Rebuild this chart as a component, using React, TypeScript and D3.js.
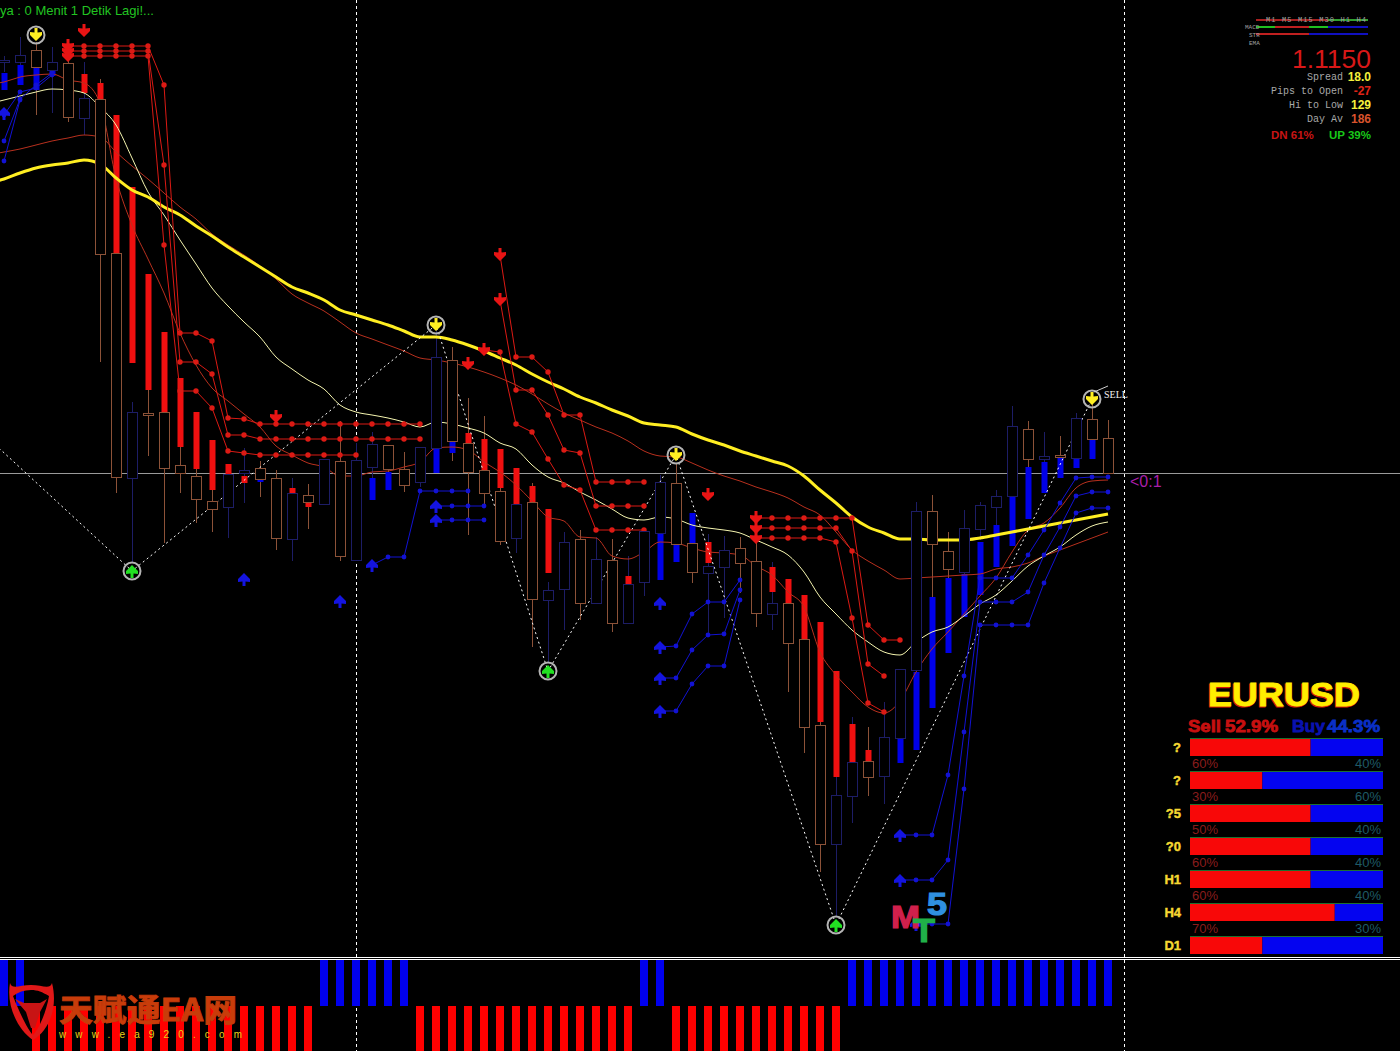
import { useEffect, useRef } from 'react';
import * as d3 from 'd3';

// all prices are half-pips relative to the 1.1150 bid line
const opens = [411,411,423,403,410,355,374,220,-5,60,61,8,-3,-28,-34,0,5,-5,-66,-22,-31,12,-87,6,28,4,-9,25,113,30,3,-18,-65,-29,-127,-116,-66,-130,-87,-150,-109,-60,-10,-70,-100,-94,-75,-88,-141,-130,-166,-252,-371,-323,-288,-303,-265,-197,-38,-78,-99,-56,-34,-23,44,14,18,15,54,35];
const closes = [413,418,406,411,356,375,219,-4,61,58,5,0,-26,-36,-1,3,-6,-65,-20,-29,14,-83,13,29,4,-12,26,116,32,1,-20,-68,-31,-126,-117,-69,-130,-86,-150,-111,-58,-9,-71,-99,-93,-77,-90,-140,-130,-170,-254,-371,-322,-289,-304,-264,-196,-38,-71,-96,-55,-32,-23,47,14,17,16,55,34,0];
const highs = [417,436,431,426,433,411,394,220,71,83,138,26,4,-17,-1,25,12,3,-5,-11,14,52,30,41,28,21,26,143,126,75,57,24,5,-10,-109,-59,-57,-64,-66,-83,-58,-2,10,-70,-61,-63,-64,-40,-89,-106,-122,-149,-304,-244,-254,-229,-196,-29,-22,-59,-37,-29,-17,67,52,41,37,60,73,53];
const lows = [401,388,358,360,351,338,111,-20,-89,17,-70,-20,-50,-59,-65,-30,-24,-77,-88,-56,-31,-88,-87,-27,1,-19,-14,0,12,-62,-34,-72,-80,-174,-189,-157,-147,-130,-159,-151,-123,-107,-89,-110,-162,-145,-120,-154,-157,-219,-280,-399,-444,-350,-323,-331,-290,-277,-124,-120,-101,-67,-52,-24,6,11,16,15,34,0];

const haOpens: (number | null)[] = [383,388,383,397,null,399,390,358,286,199,141,95,61,33,9,-3,-9,null,-15,-29,null,null,null,-27,-17,null,null,0,20,40,34,24,5,-13,-36,null,null,null,null,-103,null,-107,-89,-70,-69,null,null,null,-94,-106,-122,-149,-198,-251,-277,null,-290,-277,-235,-180,-144,-122,-94,-73,-46,-20,-5,5,14,null];
const haCloses: (number | null)[] = [400,408,406,403,null,380,374,220,110,83,61,26,4,-17,-1,-10,-6,null,-20,-34,null,null,null,-5,1,null,null,25,32,30,3,-15,-31,-29,-100,null,null,null,null,-111,null,-60,-71,-40,-90,null,null,null,-119,-130,-166,-249,-304,-289,-288,null,-265,-199,-124,-105,-101,-69,-52,-24,6,11,16,15,34,null];

// moving averages, first value belongs to bar -1 (just off the left edge)
const maSlow = [290,294,300,305,308,310,313,309,295,283,276,266,258,247,237,226,216,206,196,186,180,173,163,158,153,148,142,136,136,133,128,122,115,108,99,91,84,76,70,63,57,50,48,46,39,33,28,22,17,12,7,-3,-17,-30,-44,-54,-60,-66,-66,-67,-67,-67,-65,-62,-59,-56,-53,-50,-47,-44,-41];
const maMid = [318,321,324,328,332,335,338,336,321,307,294,280,266,254,239,228,218,207,194,179,170,162,151,140,134,128,122,115,113,110,106,101,95,88,79,69,60,53,46,40,32,22,17,16,10,3,-3,-8,-14,-19,-25,-34,-42,-59,-77,-88,-97,-106,-105,-104,-103,-102,-101,-96,-94,-90,-83,-77,-71,-65,-59];
const maFast = [369,373,377,381,384,383,380,366,348,315,281,258,233,209,185,167,151,136,116,104,93,84,68,61,58,55,51,46,51,49,45,40,30,24,8,-4,-10,-19,-27,-36,-45,-47,-44,-46,-52,-55,-57,-60,-67,-74,-82,-99,-124,-141,-157,-169,-179,-182,-169,-159,-154,-143,-131,-122,-108,-93,-83,-74,-62,-53,-49];
const maTrigger = [389,391,396,398,399,393,390,370,295,248,214,180,140,108,85,72,59,46,27,18,10,6,-3,-3,1,2,6,11,25,26,23,11,1,-12,-28,-44,-48,-64,-65,-83,-86,-79,-69,-70,-75,-79,-80,-82,-93,-102,-119,-134,-179,-202,-219,-234,-240,-228,-199,-176,-159,-141,-123,-105,-79,-57,-50,-35,-15,-8,-7];

// stop lines: first number is the starting bar, the rest are levels
const redStairs = [
  [4,427,427,427,427,427,427,388,140,140,132,55,54,49,49,49,49,49,49,49,49,49,49,49],
  [4,422,422,422,422,422,422,308,111,111,99,38,38,34,34,34,34,34,34,34,34,34,34,34],
  [4,417,417,417,417,417,417,228,82,82,65,22,20,18,18,18,18,18,18,18],
  [31,218,116,116,101,58,58,-9,-9,-9,-9],
  [31,173,83,83,58,23,20,-33,-33,-33,-33],
  [30,123,121,49,41,14,-12,-17,-57,-57,-57,-57],
  [47,-45,-45,-45,-45,-45,-45,-45,-152,-167,-167],
  [47,-55,-55,-55,-55,-55,-55,-78,-191,-203],
  [47,-65,-65,-65,-65,-65,-69,-145,-230,-239],
];
const blueStairs = [
  [0,358,381,385,398],
  [0,332,374,388,400],
  [0,312,373],
  [23,-92,-84,-84,-18,-18,-18,-18],
  [27,-33,-33,-33,-33],
  [27,-47,-47,-47,-47],
  [41,-174,-173,-141,-129,-129,-107],
  [41,-205,-205,-177,-162,-161,-117],
  [41,-238,-238,-211,-193,-193,-127],
  [56,-362,-362,-362,-302,-203,-105,-105,-105,-82,-57,-30,-5,-4,-4],
  [56,-407,-407,-407,-387,-259,-129,-129,-129,-119,-82,-54,-23,-19,-19],
  [57,-451,-451,-451,-316,-152,-152,-152,-152,-110,-75,-40,-35,-35],
];

const zigzagBars = [-1,8,27,34,42,52,68];
const zigzagLevels = [35,-98,148,-198,18,-452,74];
const topSignalBars = [2,27,42,68];
const topSignalLevels = [438,148,18,74];
const bottomSignalBars = [8,34,52];
const bottomSignalLevels = [-98,-198,-452];

const sellArrowBars = [5,4,4,4,17,29,30,31,31,44,47,47,47];
const sellArrowLevels = [442,427,422,417,56,109,123,218,173,-22,-45,-55,-65];
const buyArrowBars = [0,15,21,23,27,27,41,41,41,41,56,56,57];
const buyArrowLevels = [360,-106,-128,-92,-33,-47,-130,-174,-205,-238,-362,-407,-451];

const trendSignal = [1,1,-1,-1,-1,-1,-1,-1,-1,-1,-1,-1,-1,-1,-1,-1,-1,-1,-1,-1,1,1,1,1,1,1,-1,-1,-1,-1,-1,-1,-1,-1,-1,-1,-1,-1,-1,-1,1,1,-1,-1,-1,-1,-1,-1,-1,-1,-1,-1,-1,1,1,1,1,1,1,1,1,1,1,1,1,1,1,1,1,1];

const meterLabels = ['?','?','?5','?0','H1','H4','D1'];
const meterEighths = [5,3,5,5,5,6,3];
const meterSell = ['60%','30%','50%','60%','60%','70%'];
const meterBuy = ['40%','60%','40%','40%','40%','30%'];

const infoLabels = ['Spread','Pips to Open','Hi to Low','Day Av'];
const infoValues = ['18.0','-27','129','186'];
const infoColors = ['#f4f03c','#e02418','#f4f03c','#d8532c'];

const sans = '"Liberation Sans", Arial, sans-serif';
const NAVY = '#1d1d66';
const BROWN = '#8c5238';

const App = () => {
  const ref = useRef<SVGSVGElement | null>(null);

  useEffect(() => {
    if (!ref.current) return;
    const svg = d3.select(ref.current);
    svg.selectAll('*').remove();
    const width = 1400;
    const height = 1051;

    const x = d3.scaleLinear().domain([0, 69]).range([4, 1108]);
    const y = d3.scaleLinear().domain([473, -485]).range([0, 958]);
    const yHist = d3.scaleLinear().domain([-1, 1]).range([1052, 960]);
    const bars = d3.range(opens.length);

    svg.append('rect').attr('width', width).attr('height', height).attr('fill', '#000');

    // separators and bid line
    [356, 1124].forEach((gx) => {
      svg.append('line').attr('x1', gx + 0.5).attr('x2', gx + 0.5).attr('y1', 0).attr('y2', height)
        .attr('stroke', '#fff').attr('stroke-dasharray', '3,3');
    });
    svg.append('line').attr('x1', 0).attr('x2', width).attr('y1', y(0) + 0.5).attr('y2', y(0) + 0.5)
      .attr('stroke', '#9a9a9a');
    [957.5, 959.5].forEach((ly) => {
      svg.append('line').attr('x1', 0).attr('x2', width).attr('y1', ly).attr('y2', ly).attr('stroke', '#fff');
    });

    // trend histogram
    svg.append('g').selectAll('rect').data(bars).join('rect')
      .attr('x', (i) => x(i) - 4)
      .attr('width', 8)
      .attr('y', (i) => (trendSignal[i] > 0 ? yHist(1) : yHist(0)))
      .attr('height', (i) => (trendSignal[i] > 0 ? yHist(0) - yHist(1) : yHist(-1) - yHist(0)))
      .attr('fill', (i) => (trendSignal[i] > 0 ? '#0000ee' : '#ff0000'));

    // wicks sit under everything else
    const candleColor = (i: number) => (closes[i] > opens[i] ? NAVY : BROWN);
    svg.append('g').selectAll('line').data(bars).join('line')
      .attr('x1', (i) => x(i) + 0.5).attr('x2', (i) => x(i) + 0.5)
      .attr('y1', (i) => y(highs[i])).attr('y2', (i) => y(lows[i]))
      .attr('stroke', candleColor);

    // heiken ashi bars behind the candles
    svg.append('g').selectAll('rect').data(bars.filter((i) => haOpens[i] !== null)).join('rect')
      .attr('x', (i) => x(i) - 2.5)
      .attr('width', 6)
      .attr('y', (i) => y(Math.max(haOpens[i]!, haCloses[i]!)))
      .attr('height', (i) => Math.abs(y(haOpens[i]!) - y(haCloses[i]!)))
      .attr('fill', (i) => (haCloses[i]! > haOpens[i]! ? '#0000e8' : '#f01010'));

    const maLine = d3.line<number>().x((_, i) => x(i - 1)).y((d) => y(d)).curve(d3.curveMonotoneX);
    svg.append('path').attr('d', maLine(maTrigger)).attr('fill', 'none').attr('stroke', '#b8301e');
    svg.append('path').attr('d', maLine(maMid)).attr('fill', 'none').attr('stroke', '#b8301e');
    svg.append('path').attr('d', maLine(maFast)).attr('fill', 'none').attr('stroke', '#f6f6b0');
    svg.append('path').attr('d', maLine(maSlow)).attr('fill', 'none').attr('stroke', '#ffee22').attr('stroke-width', 3);

    // zigzag
    const zigzag = d3.line<number>().x((b) => x(b)).y((_, i) => y(zigzagLevels[i]));
    svg.append('path').attr('d', zigzag(zigzagBars)).attr('fill', 'none')
      .attr('stroke', '#fff').attr('stroke-dasharray', '2,3');

    // stop lines with dots
    const drawStairs = (rows: number[][], color: string, dot: number) => {
      rows.forEach((row) => {
        const start = row[0];
        const levels = row.slice(1);
        const stair = d3.line<number>().x((_, i) => x(start + i)).y((d) => y(d));
        const g = svg.append('g');
        g.append('path').attr('d', stair(levels)).attr('fill', 'none').attr('stroke', color);
        g.selectAll('circle').data(levels).join('circle')
          .attr('cx', (_, i) => x(start + i)).attr('cy', (d) => y(d)).attr('r', dot).attr('fill', color);
      });
    };
    drawStairs(redStairs, '#dc1a14', 2.7);
    drawStairs(blueStairs, '#1212d4', 2.4);

    // arrows
    const downArrow = 'M-1.5,-7L1.5,-7L1.5,-2.5L6,-3L6,0L0,6L-6,0L-6,-3L-1.5,-2.5Z';
    const upArrow = 'M-1.5,7L1.5,7L1.5,2.5L6,3L6,0L0,-6L-6,0L-6,3L-1.5,2.5Z';
    svg.append('g').selectAll('path').data(sellArrowBars).join('path')
      .attr('d', downArrow).attr('fill', '#e81414')
      .attr('transform', (b, i) => `translate(${x(b)},${y(sellArrowLevels[i])})`);
    svg.append('g').selectAll('path').data(buyArrowBars).join('path')
      .attr('d', upArrow).attr('fill', '#1414e0')
      .attr('transform', (b, i) => `translate(${x(b)},${y(buyArrowLevels[i])})`);

    // candle bodies go on top, their black fill hides whatever is behind
    svg.append('g').selectAll('rect').data(bars).join('rect')
      .attr('x', (i) => x(i) - 4.5)
      .attr('width', 10)
      .attr('y', (i) => Math.round(y(Math.max(opens[i], closes[i]))) + 0.5)
      .attr('height', (i) => Math.max(1, Math.abs(y(opens[i]) - y(closes[i]))))
      .attr('fill', '#000').attr('stroke', candleColor);

    // ringed reversal signals
    const rings = svg.append('g');
    topSignalBars.forEach((b, i) => {
      const g = rings.append('g').attr('transform', `translate(${x(b)},${y(topSignalLevels[i])})`);
      g.append('circle').attr('r', 8.5).attr('fill', 'none').attr('stroke', '#b4b4b4').attr('stroke-width', 2);
      g.append('path').attr('d', downArrow).attr('fill', '#ffee22');
    });
    bottomSignalBars.forEach((b, i) => {
      const g = rings.append('g').attr('transform', `translate(${x(b)},${y(bottomSignalLevels[i])})`);
      g.append('circle').attr('r', 8.5).attr('fill', 'none').attr('stroke', '#b4b4b4').attr('stroke-width', 2);
      g.append('path').attr('d', upArrow).attr('fill', '#22e022');
    });

    const label = (tx: number, ty: number, s: string, size: number, color: string, font = sans, weight = 'normal', anchor = 'start') =>
      svg.append('text').attr('x', tx).attr('y', ty).text(s)
        .attr('font-size', size).attr('fill', color).attr('font-family', font)
        .attr('font-weight', weight).attr('text-anchor', anchor);

    label(0, 15, 'ya : 0 Menit 1 Detik Lagi!...', 13, '#22c422');
    label(1130, 487, '<0:1', 16, '#a81fa8');
    label(1104, 398, 'SELL', 10, '#f0f0f0', '"Liberation Serif", serif');
    svg.append('path').attr('d', 'M1094,392L1108,386').attr('stroke', '#cfcfcf').attr('fill', 'none');

    // top right info block
    const mono = '"Liberation Mono", monospace';
    const strip = (ly: number, stops: [number, number, string][]) => {
      stops.forEach(([a, b, c]) => {
        svg.append('line').attr('x1', a).attr('x2', b).attr('y1', ly).attr('y2', ly)
          .attr('stroke', c).attr('stroke-width', 2);
      });
    };
    strip(20, [[1256, 1328, '#a82020'], [1328, 1368, '#30a030']]);
    strip(27, [[1256, 1275, '#20c020'], [1275, 1309, '#c02020'], [1309, 1328, '#20c020'], [1328, 1368, '#1010c0']]);
    strip(34, [[1256, 1309, '#c02020'], [1309, 1368, '#1010c0']]);
    label(1266, 22, 'M1 M5 M15 M30 H1 H4', 7, '#a0a0a0', mono).attr('textLength', 100).attr('lengthAdjust', 'spacing');
    label(1245, 29, 'MACD', 6, '#a0a0a0', mono);
    label(1249, 37, 'STR', 6, '#a0a0a0', mono);
    label(1249, 45, 'EMA', 6, '#a0a0a0', mono);
    label(1371, 68, '1.1150', 26.5, '#d81818', sans, 'normal', 'end');
    infoLabels.forEach((s, i) => {
      label(1343, 80 + i * 14, s, 10, '#a8a8a8', mono, 'normal', 'end');
      label(1371, 81 + i * 14, infoValues[i], 12, infoColors[i], sans, 'bold', 'end');
    });
    label(1271, 139, 'DN 61%', 11.5, '#c81414', sans, 'bold');
    label(1371, 139, 'UP 39%', 11.5, '#18c818', sans, 'bold', 'end');

    // meter panel
    const title = (tx: number, ty: number, s: string, len: number, size: number, color: string, sw: number) =>
      label(tx, ty, s, size, color, sans, 'bold').attr('textLength', len).attr('lengthAdjust', 'spacingAndGlyphs')
        .attr('stroke', color).attr('stroke-width', sw);
    title(1207, 707, 'EURUSD', 152, 33, '#d81808', 1.2);
    title(1208, 706, 'EURUSD', 152, 33, '#ffee00', 0.8);
    title(1188, 732, 'Sell', 33, 17, '#c81010', 0.8);
    title(1225, 732, '52.9%', 53, 17, '#c81010', 0.8);
    title(1292, 732, 'Buy', 33, 17, '#0a12b0', 0.8);
    title(1327, 732, '44.3%', 53, 17, '#0a30c8', 0.8);

    const meterX = d3.scaleLinear().domain([0, 8]).range([1190, 1383]);
    const meterY = (i: number) => 738 + i * 33;
    meterLabels.forEach((s, i) => {
      svg.append('rect').attr('x', meterX(0)).attr('width', meterX(meterEighths[i]) - meterX(0))
        .attr('y', meterY(i)).attr('height', 18).attr('fill', '#f80808');
      svg.append('rect').attr('x', meterX(meterEighths[i])).attr('width', meterX(8) - meterX(meterEighths[i]))
        .attr('y', meterY(i)).attr('height', 18).attr('fill', '#0404f0');
      svg.append('line').attr('x1', meterX(0)).attr('x2', meterX(8)).attr('y1', meterY(i) + 0.5).attr('y2', meterY(i) + 0.5)
        .attr('stroke', '#1c7030');
      label(1181, meterY(i) + 14, s, 13, '#f6d832', sans, 'bold', 'end').attr('stroke', '#f6d832').attr('stroke-width', 0.4);
      if (i < meterSell.length) {
        label(1192, meterY(i) + 30, meterSell[i], 13, '#8a1c1c');
        label(1381, meterY(i) + 30, meterBuy[i], 13, '#1e5a66', sans, 'normal', 'end');
      }
    });

    // MT5 badge
    title(891, 928, 'M', 29, 32, '#d0204c', 1.2);
    title(927, 915, '5', 20, 32, '#2f90e0', 1.2);
    title(913, 942, 'T', 22, 33, '#20b048', 1.2);

    // watermark
    const bull = svg.append('g');
    bull.append('path').attr('fill-rule', 'evenodd').attr('fill', '#e01818')
      .attr('d', 'M10,983C6,1006 18,1030 33,1040C50,1030 58,1006 52,983C50,990 42,985 31,985C20,985 12,990 10,983Z'
        + 'M13,996C20,1014 28,1030 33,1035C38,1030 46,1014 49,996C42,992 38,990 31,990C24,990 18,992 13,996Z');
    bull.append('path').attr('fill', '#c81414')
      .attr('d', 'M15,999L24,1003L40,1003L47,999L40,1012L35,1028L31,1028L26,1012Z');
    label(59, 1021, '天赋通EA网', 31, '#c83c0a', '"Noto Sans CJK SC", sans-serif', 'bold')
      .attr('textLength', 178).attr('lengthAdjust', 'spacingAndGlyphs')
      .attr('stroke', '#c83c0a').attr('stroke-width', 0.8);
    label(59, 1038, 'www.ea920.com', 10, '#e8d018').attr('textLength', 183).attr('lengthAdjust', 'spacing');
  }, []);

  return <svg ref={ref} width={1400} height={1051} style={{ position: 'absolute', left: 0, top: 0, display: 'block' }} />;
};

export default App;
